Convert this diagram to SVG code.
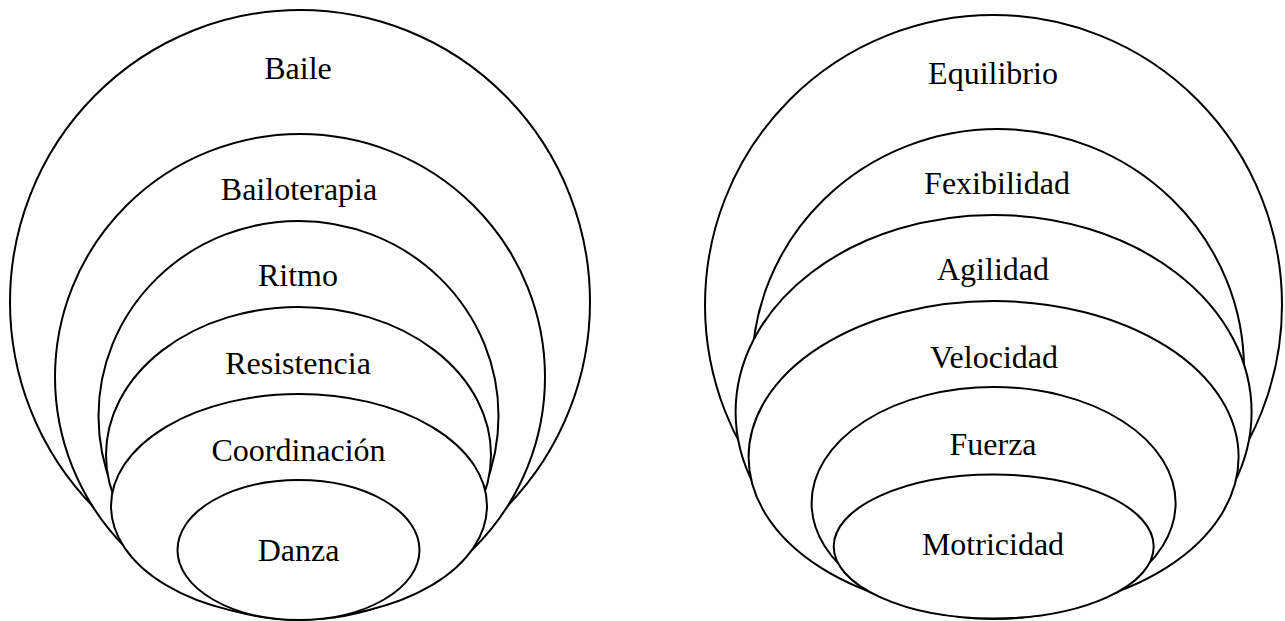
<svg xmlns="http://www.w3.org/2000/svg" width="1285" height="621" viewBox="0 0 1285 621">
<style>
.shape{fill:#ffffff;stroke:#000000;stroke-width:2}
.lbl{font-family:"Liberation Serif","Times New Roman",serif;font-size:32px;fill:#000000;text-anchor:middle}
</style>
<rect width="1285" height="621" fill="#ffffff"/>
<g id="left-group">
<g id="baile"><ellipse class="shape" cx="300" cy="302" rx="290" ry="292"/><text class="lbl" x="298" y="79">Baile</text></g>
<g id="bailoterapia"><ellipse class="shape" cx="300" cy="377" rx="245" ry="243"/><text class="lbl" x="299" y="200">Bailoterapia</text></g>
<g id="ritmo"><ellipse class="shape" cx="298.5" cy="416" rx="200" ry="195"/><text class="lbl" x="298" y="286">Ritmo</text></g>
<g id="resistencia"><ellipse class="shape" cx="298.5" cy="455" rx="192.5" ry="148"/><text class="lbl" x="298" y="374">Resistencia</text></g>
<g id="coordinacion"><ellipse class="shape" cx="299" cy="506" rx="188" ry="112"/><text class="lbl" x="298.5" y="461">Coordinación</text></g>
<g id="danza"><ellipse class="shape" cx="298.5" cy="550" rx="121" ry="70"/><text class="lbl" x="298.5" y="561">Danza</text></g>
</g>
<g id="right-group">
<g id="equilibrio"><ellipse class="shape" cx="993.5" cy="305" rx="288.5" ry="290"/><text class="lbl" x="993" y="84">Equilibrio</text></g>
<g id="fexibilidad"><ellipse class="shape" cx="998" cy="369" rx="246" ry="240"/><text class="lbl" x="997" y="194">Fexibilidad</text></g>
<g id="agilidad"><ellipse class="shape" cx="993.6" cy="412" rx="258" ry="197"/><text class="lbl" x="993" y="280">Agilidad</text></g>
<g id="velocidad"><ellipse class="shape" cx="993.6" cy="457" rx="245" ry="156"/><text class="lbl" x="994" y="368">Velocidad</text></g>
<g id="fuerza"><ellipse class="shape" cx="993.6" cy="503" rx="182" ry="116"/><text class="lbl" x="993" y="455">Fuerza</text></g>
<g id="motricidad"><ellipse class="shape" cx="993.7" cy="546.5" rx="160" ry="72"/><text class="lbl" x="993" y="555">Motricidad</text></g>
</g>
<g id="connectors"/>
</svg>
